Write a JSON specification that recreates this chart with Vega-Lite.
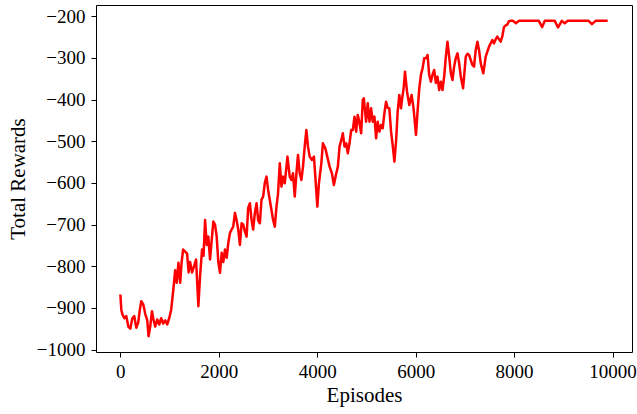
{
  "$schema": "https://vega.github.io/schema/vega-lite/v6.json",
  "width": 536,
  "height": 347,
  "autosize": "none",
  "padding": {"left": 96, "top": 5, "right": 5, "bottom": 62},
  "background": "white",
  "config": {
    "view": {"stroke": "black", "strokeWidth": 1},
    "axis": {
      "domain": false,
      "grid": false,
      "ticks": true,
      "tickColor": "black",
      "tickSize": 5,
      "tickWidth": 1,
      "labelColor": "black",
      "labelFont": "Liberation Serif",
      "labelFontSize": 19,
      "titleFont": "Liberation Serif",
      "titleFontSize": 21,
      "titleFontWeight": "normal",
      "titleColor": "black"
    }
  },
  "data": {
    "values": [
      {"episode": 0, "reward": -868}, {"episode": 20, "reward": -905}, {"episode": 40, "reward": -915},
      {"episode": 81, "reward": -925}, {"episode": 121, "reward": -920}, {"episode": 162, "reward": -945},
      {"episode": 202, "reward": -950}, {"episode": 243, "reward": -925}, {"episode": 283, "reward": -920},
      {"episode": 324, "reward": -948}, {"episode": 364, "reward": -935}, {"episode": 395, "reward": -905},
      {"episode": 425, "reward": -884}, {"episode": 466, "reward": -892}, {"episode": 506, "reward": -915},
      {"episode": 547, "reward": -930}, {"episode": 573, "reward": -968}, {"episode": 607, "reward": -945},
      {"episode": 642, "reward": -908}, {"episode": 668, "reward": -925}, {"episode": 708, "reward": -945},
      {"episode": 749, "reward": -928}, {"episode": 789, "reward": -940}, {"episode": 830, "reward": -925},
      {"episode": 870, "reward": -938}, {"episode": 911, "reward": -930}, {"episode": 951, "reward": -940},
      {"episode": 992, "reward": -925}, {"episode": 1032, "reward": -905}, {"episode": 1073, "reward": -860},
      {"episode": 1113, "reward": -810}, {"episode": 1144, "reward": -840}, {"episode": 1180, "reward": -792},
      {"episode": 1215, "reward": -840}, {"episode": 1245, "reward": -790}, {"episode": 1275, "reward": -760},
      {"episode": 1316, "reward": -765}, {"episode": 1356, "reward": -770}, {"episode": 1387, "reward": -815},
      {"episode": 1417, "reward": -790}, {"episode": 1457, "reward": -815}, {"episode": 1498, "reward": -800},
      {"episode": 1538, "reward": -784}, {"episode": 1585, "reward": -896}, {"episode": 1619, "reward": -824},
      {"episode": 1660, "reward": -760}, {"episode": 1690, "reward": -775}, {"episode": 1721, "reward": -689},
      {"episode": 1755, "reward": -749}, {"episode": 1787, "reward": -729}, {"episode": 1822, "reward": -784},
      {"episode": 1856, "reward": -737}, {"episode": 1889, "reward": -693}, {"episode": 1923, "reward": -700},
      {"episode": 1957, "reward": -729}, {"episode": 1990, "reward": -790}, {"episode": 2024, "reward": -816},
      {"episode": 2059, "reward": -768}, {"episode": 2091, "reward": -790}, {"episode": 2126, "reward": -760},
      {"episode": 2160, "reward": -780}, {"episode": 2192, "reward": -745}, {"episode": 2227, "reward": -720},
      {"episode": 2261, "reward": -712}, {"episode": 2293, "reward": -705}, {"episode": 2328, "reward": -672},
      {"episode": 2362, "reward": -690}, {"episode": 2395, "reward": -712}, {"episode": 2429, "reward": -749},
      {"episode": 2463, "reward": -697}, {"episode": 2496, "reward": -700}, {"episode": 2530, "reward": -717},
      {"episode": 2564, "reward": -729}, {"episode": 2597, "reward": -660}, {"episode": 2632, "reward": -649},
      {"episode": 2666, "reward": -690}, {"episode": 2698, "reward": -712}, {"episode": 2733, "reward": -672},
      {"episode": 2767, "reward": -649}, {"episode": 2800, "reward": -690}, {"episode": 2834, "reward": -697},
      {"episode": 2868, "reward": -640}, {"episode": 2901, "reward": -633}, {"episode": 2935, "reward": -600},
      {"episode": 2969, "reward": -585}, {"episode": 3002, "reward": -617}, {"episode": 3036, "reward": -641},
      {"episode": 3070, "reward": -665}, {"episode": 3103, "reward": -689}, {"episode": 3138, "reward": -705},
      {"episode": 3172, "reward": -657}, {"episode": 3204, "reward": -625}, {"episode": 3239, "reward": -553},
      {"episode": 3273, "reward": -609}, {"episode": 3306, "reward": -585}, {"episode": 3340, "reward": -601},
      {"episode": 3395, "reward": -537}, {"episode": 3441, "reward": -585}, {"episode": 3475, "reward": -593},
      {"episode": 3508, "reward": -577}, {"episode": 3543, "reward": -633}, {"episode": 3577, "reward": -577},
      {"episode": 3609, "reward": -533}, {"episode": 3644, "reward": -577}, {"episode": 3678, "reward": -593},
      {"episode": 3711, "reward": -561}, {"episode": 3745, "reward": -513}, {"episode": 3779, "reward": -473},
      {"episode": 3812, "reward": -513}, {"episode": 3846, "reward": -537}, {"episode": 3893, "reward": -545},
      {"episode": 3933, "reward": -537}, {"episode": 3961, "reward": -585}, {"episode": 4002, "reward": -657},
      {"episode": 4034, "reward": -601}, {"episode": 4083, "reward": -553}, {"episode": 4115, "reward": -505},
      {"episode": 4164, "reward": -517}, {"episode": 4204, "reward": -537}, {"episode": 4251, "reward": -561},
      {"episode": 4298, "reward": -577}, {"episode": 4338, "reward": -605}, {"episode": 4387, "reward": -577},
      {"episode": 4419, "reward": -561}, {"episode": 4453, "reward": -513}, {"episode": 4488, "reward": -497},
      {"episode": 4520, "reward": -481}, {"episode": 4555, "reward": -513}, {"episode": 4589, "reward": -505},
      {"episode": 4621, "reward": -529}, {"episode": 4656, "reward": -505}, {"episode": 4690, "reward": -473},
      {"episode": 4723, "reward": -473}, {"episode": 4757, "reward": -441}, {"episode": 4791, "reward": -477},
      {"episode": 4824, "reward": -437}, {"episode": 4858, "reward": -455}, {"episode": 4892, "reward": -481},
      {"episode": 4925, "reward": -401}, {"episode": 4946, "reward": -397}, {"episode": 4993, "reward": -453},
      {"episode": 5026, "reward": -409}, {"episode": 5061, "reward": -453}, {"episode": 5095, "reward": -421},
      {"episode": 5127, "reward": -453}, {"episode": 5162, "reward": -441}, {"episode": 5196, "reward": -493},
      {"episode": 5228, "reward": -453}, {"episode": 5263, "reward": -477}, {"episode": 5297, "reward": -461},
      {"episode": 5330, "reward": -469}, {"episode": 5364, "reward": -433}, {"episode": 5398, "reward": -405},
      {"episode": 5431, "reward": -420}, {"episode": 5465, "reward": -421}, {"episode": 5500, "reward": -477},
      {"episode": 5532, "reward": -509}, {"episode": 5567, "reward": -549}, {"episode": 5601, "reward": -501},
      {"episode": 5634, "reward": -429}, {"episode": 5668, "reward": -389}, {"episode": 5702, "reward": -421},
      {"episode": 5728, "reward": -395}, {"episode": 5755, "reward": -373}, {"episode": 5783, "reward": -333},
      {"episode": 5824, "reward": -381}, {"episode": 5870, "reward": -413}, {"episode": 5917, "reward": -389},
      {"episode": 5957, "reward": -421}, {"episode": 6006, "reward": -485}, {"episode": 6038, "reward": -429},
      {"episode": 6073, "reward": -373}, {"episode": 6107, "reward": -340}, {"episode": 6140, "reward": -325},
      {"episode": 6174, "reward": -301}, {"episode": 6214, "reward": -300}, {"episode": 6241, "reward": -293},
      {"episode": 6275, "reward": -341}, {"episode": 6310, "reward": -357}, {"episode": 6342, "reward": -340},
      {"episode": 6376, "reward": -329}, {"episode": 6410, "reward": -360}, {"episode": 6443, "reward": -345},
      {"episode": 6478, "reward": -377}, {"episode": 6512, "reward": -357}, {"episode": 6545, "reward": -377},
      {"episode": 6579, "reward": -345}, {"episode": 6613, "reward": -297}, {"episode": 6646, "reward": -261},
      {"episode": 6680, "reward": -297}, {"episode": 6715, "reward": -337}, {"episode": 6747, "reward": -353},
      {"episode": 6781, "reward": -321}, {"episode": 6815, "reward": -300}, {"episode": 6849, "reward": -289},
      {"episode": 6883, "reward": -313}, {"episode": 6917, "reward": -345}, {"episode": 6963, "reward": -373},
      {"episode": 7018, "reward": -297}, {"episode": 7051, "reward": -290}, {"episode": 7085, "reward": -293},
      {"episode": 7119, "reward": -305}, {"episode": 7152, "reward": -317}, {"episode": 7186, "reward": -321},
      {"episode": 7220, "reward": -281}, {"episode": 7254, "reward": -261}, {"episode": 7287, "reward": -281},
      {"episode": 7322, "reward": -313}, {"episode": 7374, "reward": -337}, {"episode": 7423, "reward": -297},
      {"episode": 7456, "reward": -285}, {"episode": 7490, "reward": -273}, {"episode": 7524, "reward": -265},
      {"episode": 7557, "reward": -257}, {"episode": 7591, "reward": -265}, {"episode": 7626, "reward": -255},
      {"episode": 7658, "reward": -249}, {"episode": 7692, "reward": -255}, {"episode": 7726, "reward": -261},
      {"episode": 7759, "reward": -249}, {"episode": 7794, "reward": -226}, {"episode": 7828, "reward": -222},
      {"episode": 7861, "reward": -220}, {"episode": 7894, "reward": -212}, {"episode": 7935, "reward": -211},
      {"episode": 7975, "reward": -211}, {"episode": 8006, "reward": -214}, {"episode": 8036, "reward": -217},
      {"episode": 8067, "reward": -214}, {"episode": 8097, "reward": -211}, {"episode": 8502, "reward": -211},
      {"episode": 8569, "reward": -226}, {"episode": 8624, "reward": -211}, {"episode": 8826, "reward": -211},
      {"episode": 8893, "reward": -227}, {"episode": 8968, "reward": -211}, {"episode": 9028, "reward": -217},
      {"episode": 9089, "reward": -211}, {"episode": 9514, "reward": -211}, {"episode": 9581, "reward": -219},
      {"episode": 9656, "reward": -211}, {"episode": 9900, "reward": -211}
    ]
  },
  "mark": {"type": "line", "color": "#ff0000", "strokeWidth": 2.5, "strokeJoin": "round", "clip": true},
  "encoding": {
    "x": {
      "field": "episode",
      "type": "quantitative",
      "scale": {"domain": [-495, 10395], "nice": false, "zero": false},
      "axis": {"title": "Episodes", "values": [0, 2000, 4000, 6000, 8000, 10000], "format": "d", "labelPadding": 5, "titlePadding": 3}
    },
    "y": {
      "field": "reward",
      "type": "quantitative",
      "scale": {"domain": [-1006, -173], "nice": false, "zero": false},
      "axis": {"title": "Total Rewards", "values": [-1000, -900, -800, -700, -600, -500, -400, -300, -200], "format": "d", "labelPadding": 6, "titlePadding": 8}
    }
  }
}
